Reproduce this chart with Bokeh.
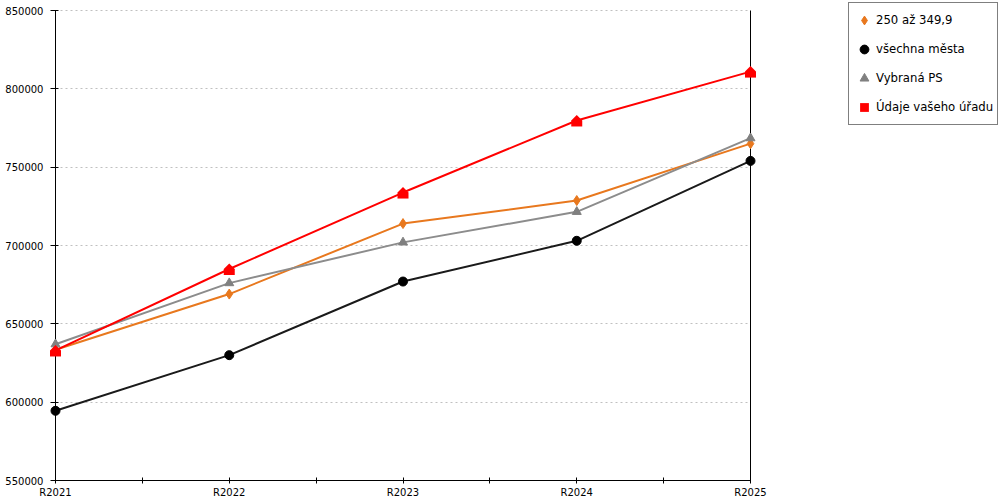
import math
from bokeh.plotting import figure
from bokeh.models import (Range1d, FixedTicker, BasicTickFormatter, Legend,
                          LegendItem, ColumnDataSource)
from bokeh.transform import dodge
from bokeh.embed import file_html
from bokeh.resources import INLINE

# ---- data ----
categories = ["R2021", "R2022", "R2023", "R2024", "R2025"]
series_250 = [633500, 669000, 714000, 728700, 765000]
series_all = [594500, 630000, 677000, 703000, 754000]
series_ps = [637000, 676000, 702000, 721500, 768500]
series_office = [633000, 685000, 733800, 779800, 811000]
series_labels = ["250 až 349,9", "všechna města", "Vybraná PS", "Údaje vašeho úřadu"]
y_ticks = [550000, 600000, 650000, 700000, 750000, 800000, 850000]

# ---- layout (pixels) ----
W, H = 1000, 500
LEFT, TOP, BOTTOM = 55, 0, 20
plot_right_px = 750          # where the last category sits
plot_top_px = 10             # where the top tick sits
frame_w = W - LEFT
frame_h = H - TOP - BOTTOM
xs = list(range(len(categories)))
x_per_px = (xs[-1] - xs[0]) / (plot_right_px - LEFT)
y_per_px = (y_ticks[-1] - y_ticks[0]) / (frame_h - plot_top_px)

ORANGE = "#e8781e"
BLACK = "#000000"
GREY = "#808080"
RED = "#ff0000"

p = figure(width=W, height=H, output_backend="svg", toolbar_location=None,
           x_range=Range1d(xs[0], xs[0] + frame_w * x_per_px),
           y_range=Range1d(y_ticks[0], y_ticks[-1] + plot_top_px * y_per_px),
           min_border_left=LEFT, min_border_right=0,
           min_border_top=TOP, min_border_bottom=BOTTOM)
p.outline_line_color = None
p.background_fill_color = "white"
p.border_fill_color = "white"
p.xgrid.visible = False

# x axis
p.xaxis.ticker = FixedTicker(ticks=xs, minor_ticks=[x + 0.5 for x in xs[:-1]])
p.xaxis.major_label_overrides = {x: c for x, c in zip(xs, categories)}
p.xaxis.bounds = (xs[0], xs[-1])
p.xaxis.major_tick_in = 3
p.xaxis.major_tick_out = 3
p.xaxis.minor_tick_in = 3
p.xaxis.minor_tick_out = 3
p.xaxis.major_label_standoff = 3

# y axis
p.yaxis.ticker = FixedTicker(ticks=y_ticks, minor_ticks=[])
p.yaxis.formatter = BasicTickFormatter(use_scientific=False)
p.yaxis.bounds = (y_ticks[0], y_ticks[-1])
p.yaxis.major_tick_in = 3
p.yaxis.major_tick_out = 5
p.yaxis.major_label_standoff = 7

for ax in (p.xaxis, p.yaxis):
    ax.axis_line_color = "black"
    ax.major_tick_line_color = "black"
    ax.minor_tick_line_color = "black"
    ax.major_label_text_font = "DejaVu Sans"
    ax.major_label_text_font_size = "10px"
    ax.major_label_text_color = "black"

# grid
p.ygrid.ticker = FixedTicker(ticks=y_ticks[1:], minor_ticks=[])
p.ygrid.grid_line_color = "#c0c0c0"
p.ygrid.grid_line_dash = "2 3"
p.ygrid.cross_bounds = (xs[0], xs[-1])

# right border of the plot area
p.segment(x0=[xs[-1]], y0=[y_ticks[0]], x1=[xs[-1]], y1=[y_ticks[-1]],
          line_color="black", line_width=1)

# ---- series ----
p.line(xs, series_250, line_color=ORANGE, line_width=2)
r_orange = p.scatter(xs, series_250, marker="diamond", size=10, color=ORANGE, level="overlay")

p.line(xs, series_all, line_color="#1a1a1a", line_width=2)
r_black = p.scatter(xs, series_all, marker="circle", size=9, color=BLACK, level="overlay")

p.line(xs, series_ps, line_color="#8c8c8c", line_width=2)
r_grey = p.scatter(xs, series_ps, marker="triangle", size=9, color=GREY, level="overlay")

src_office = ColumnDataSource(dict(x=xs, y=series_office))
p.line("x", "y", source=src_office, line_color=RED, line_width=2)
r_roof = p.scatter("x", "y", source=src_office, marker="square", angle=math.pi / 4,
                   size=7.8, fill_color=RED, line_color=None, level="overlay")
p.rect("x", dodge("y", -3 * y_per_px), width=11, height=6,
       width_units="screen", height_units="screen",
       source=src_office, fill_color=RED, line_color=None, level="overlay")
r_tri_dummy = p.scatter(x=[], y=[], marker="triangle", size=9, color=RED)

# ---- legend ----
legend_left = 848
legend_top = 4
legend_pad = 4
legend_h = 2 * legend_pad + 4 * 26 + 3 * 3
legend = Legend(items=[
    LegendItem(label=series_labels[0], renderers=[r_orange]),
    LegendItem(label=series_labels[1], renderers=[r_black]),
    LegendItem(label=series_labels[2], renderers=[r_grey]),
    LegendItem(label=series_labels[3], renderers=[r_roof, r_tri_dummy]),
], location=(legend_left - LEFT, frame_h - legend_h - legend_top),
    orientation="vertical", glyph_width=22, glyph_height=26, label_height=20,
    label_standoff=1, spacing=3, padding=legend_pad, margin=0,
    label_text_font="DejaVu Sans", label_text_font_size="11.7px",
    label_text_color="black",
    border_line_color="black", border_line_width=1,
    background_fill_color="white", background_fill_alpha=1.0)
p.add_layout(legend)

open("out.html", "w").write(file_html(p, INLINE))
